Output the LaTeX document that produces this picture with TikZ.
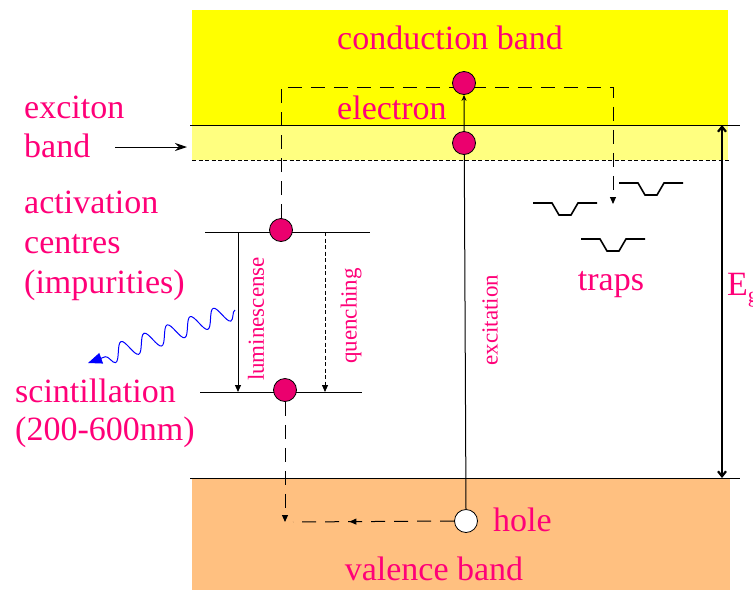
\documentclass[tikz,border=0pt]{standalone}
\usepackage{fontspec}
\setmainfont{Liberation Serif}
\newfontfamily\timesfont{Liberation Serif}
\usetikzlibrary{arrows.meta,decorations.pathmorphing,decorations.markings}
\definecolor{cband}{RGB}{255,255,0}
\definecolor{xband}{RGB}{255,255,128}
\definecolor{vband}{RGB}{255,192,128}
\definecolor{pinktxt}{RGB}{255,0,120}
\definecolor{dotfill}{RGB}{235,0,110}
\definecolor{photon}{RGB}{0,0,255}
\pgfdeclarelayer{bands}
\pgfdeclarelayer{lines}
\pgfsetlayers{bands,lines,main}
\begin{document}
\begin{tikzpicture}[x=1pt,y=-1pt,
  big/.style={text=pinktxt,font=\timesfont\fontsize{34}{40}\selectfont,inner sep=0pt},
  small/.style={text=pinktxt,font=\timesfont\fontsize{23}{26}\selectfont,inner sep=0pt,rotate=90},
  carrier/.style={circle,draw=black,line width=0.8pt,fill=dotfill,minimum size=23pt,inner sep=0pt},
  holedot/.style={carrier,fill=white},
  level/.style={line width=1pt},
  longdash/.style={dash pattern=on 14pt off 9pt,line width=1pt},
  shortdash/.style={dash pattern=on 4pt off 2.5pt,line width=0.8pt},
  tip/.style={-{Triangle[length=7pt,width=6pt]}},
  trapline/.style={line width=1.6pt},
  trapshape/.pic={\draw[trapline] (-32,0) -- (-13,0) -- (-6,12) -- (6,12) -- (13,0) -- (32,0);}]

\useasboundingbox (0,0) rectangle (753,590);

% bands
\begin{pgfonlayer}{bands}
\fill[cband] (192,10) rectangle (728,125);
\fill[xband] (192,125) rectangle (728,160);
\fill[vband] (192,478) rectangle (730,590);
\draw[level] (190,125) -- (740,125);
\draw[shortdash] (192,160) -- (730,160);
\draw[level] (190,478) -- (740,478);
\draw[level] (205,232) -- (370,232);
\draw[level] (200,392) -- (362,392);
\end{pgfonlayer}

% carriers
\node[carrier] (ce) at (464,83) {};
\node[carrier] (xe) at (464,143) {};
\node[carrier] (ae) at (281,230) {};
\node[carrier] (le) at (285,390) {};
\node[holedot] (h) at (466,521) {};

% free ends of connectors
\coordinate (tc) at (281,87);
\coordinate (tt) at (613,204);
\coordinate (lt) at (238,232);
\coordinate (lb) at (238,392);
\coordinate (qt) at (325,232);
\coordinate (qb) at (325,392);
\coordinate (vd) at (285,522);
\coordinate (hl) at (293,522);
\coordinate (xa) at (115,147);
\coordinate (xb) at (187,147);
\coordinate (egt) at (722,125);
\coordinate (egb) at (722,478);
\coordinate (ps) at (235,310);
\coordinate (pe) at (88,363);

\begin{pgfonlayer}{lines}
\draw[level,-{Stealth[length=6pt,width=5pt]}] (h.north) -- (ce.south);
\draw[longdash,tip] (ae.north) -- (tc) -| (tt);
\draw[level,tip] (lt) -- (lb);
\draw[shortdash,tip] (qt) -- (qb);
\draw[longdash,tip] (le.south) -- (vd);
\draw[longdash,postaction={decorate},
  decoration={markings,mark=at position 0.65 with {\arrow{Triangle[length=7pt,width=6pt]}}}]
  (h.west) -- (hl);
\draw[level,-{Stealth[length=12pt,width=8pt]}] (xa) -- (xb);
\draw[line width=2.2pt,{Straight Barb[length=5pt,width=8pt]}-{Straight Barb[length=5pt,width=8pt]}] (egt) -- (egb);
\draw[photon,line width=1pt,-{Triangle[length=14pt,width=11pt]},
  decorate,decoration={snake,amplitude=9pt,segment length=24.5pt,post length=12pt}] (ps) -- (pe);
\end{pgfonlayer}

% traps
\pic (t1) at (565,203) {trapshape};
\pic (t2) at (651,183) {trapshape};
\pic (t3) at (613,239) {trapshape};

% labels
\node[big,anchor=base] (cb) at (450,49) {conduction band};
\node[big,anchor=base west] (el) at (337,119) {electron};
\node[big,anchor=base west] (ex1) at (24,118) {exciton};
\node[big,anchor=base west] (ex2) at (24,157) {band};
\node[big,anchor=base west] (ac1) at (24,213) {activation};
\node[big,anchor=base west] (ac2) at (24,253) {centres};
\node[big,anchor=base west] (ac3) at (24,293) {(impurities)};
\node[big,anchor=base west] (sc1) at (15,402) {scintillation};
\node[big,anchor=base west] (sc2) at (15,440) {(200-600nm)};
\node[big,anchor=base west] (hlab) at (493,531) {hole};
\node[big,anchor=base] (vb) at (434,580) {valence band};
\node[big,anchor=base] (tr) at (611,290) {traps};
\node[big,anchor=base west] (eg) at (727,295) {E\raisebox{-7pt}{\fontsize{22}{24}\selectfont g}};
\node[small] (lum) at (256,319) {luminescense};
\node[small] (qu) at (351,316) {quenching};
\node[small] (exc) at (490,320) {excitation};
\end{tikzpicture}
\end{document}
